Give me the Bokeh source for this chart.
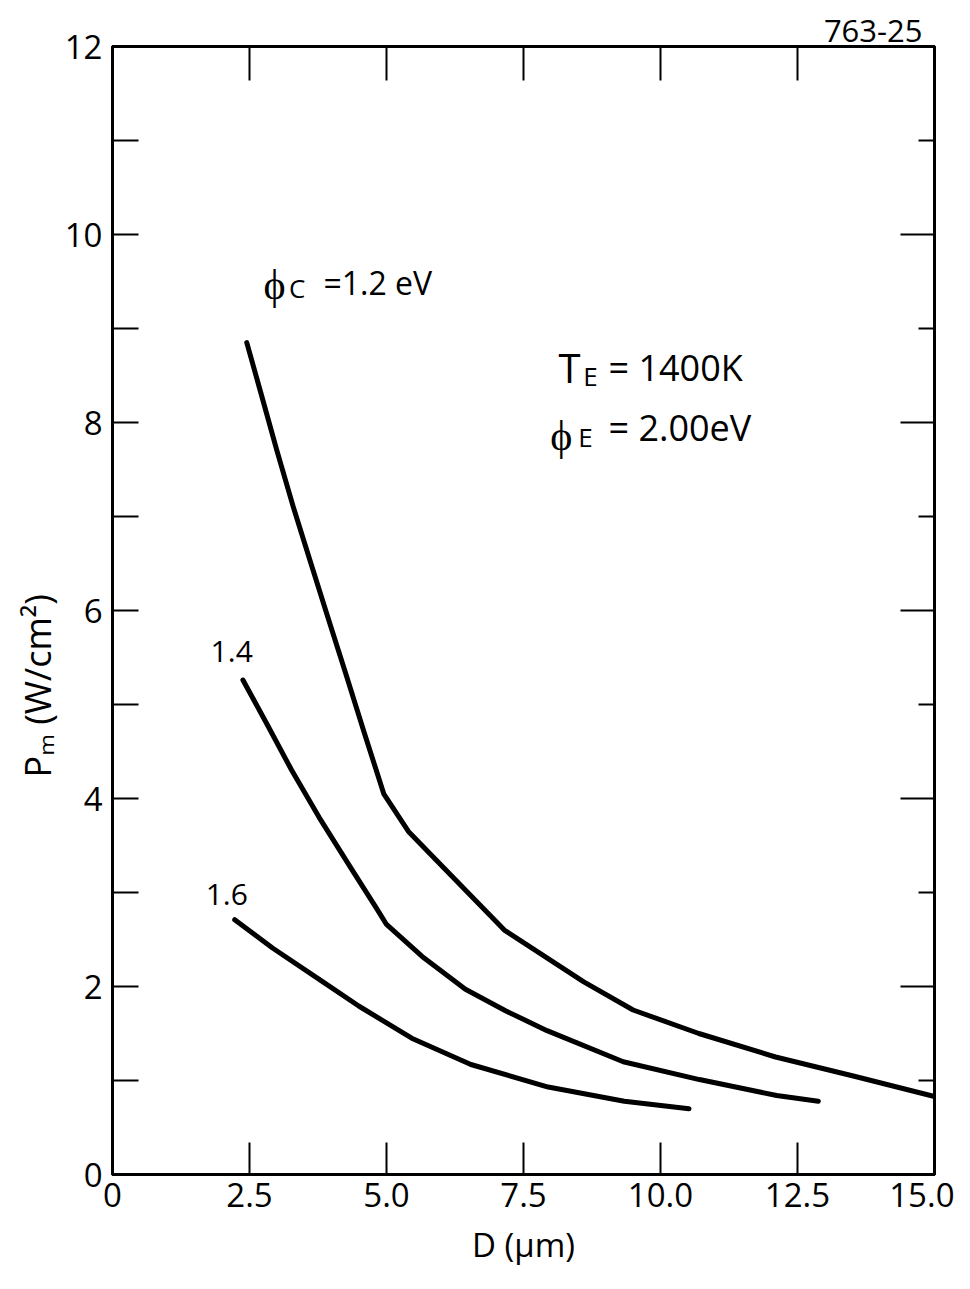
import math
from bokeh.plotting import figure
from bokeh.models import Range1d, FixedTicker, LinearAxis, Label, Title
from bokeh.embed import file_html
from bokeh.resources import INLINE

# ---------------- data ----------------
D_12 = [2.45, 2.7, 3.0, 3.3, 3.6, 3.95, 4.25, 4.6, 4.95, 5.4, 6.15, 7.15, 8.6, 9.5, 10.7, 12.1, 13.5, 15.0]
P_12 = [8.85, 8.33, 7.70, 7.10, 6.54, 5.89, 5.34, 4.69, 4.05, 3.65, 3.2, 2.6, 2.05, 1.75, 1.5, 1.25, 1.05, 0.83]

D_14 = [2.38, 2.83, 3.27, 3.77, 4.34, 4.83, 5.0, 5.65, 6.44, 7.18, 7.93, 9.32, 10.71, 12.12, 12.88]
P_14 = [5.26, 4.78, 4.30, 3.80, 3.27, 2.82, 2.66, 2.32, 1.97, 1.74, 1.53, 1.20, 1.01, 0.84, 0.78]

D_16 = [2.23, 2.92, 3.84, 4.5, 5.46, 6.54, 7.95, 9.34, 10.52]
P_16 = [2.71, 2.41, 2.05, 1.79, 1.45, 1.17, 0.93, 0.78, 0.70]

x_ticks = [0, 2.5, 5.0, 7.5, 10.0, 12.5, 15.0]
x_tick_labels = ["0", "2.5", "5.0", "7.5", "10.0", "12.5", "15.0"]
y_ticks = list(range(0, 13))
y_tick_labels = {v: (str(v) if v % 2 == 0 else "") for v in y_ticks}

FONT = "Open Sans"

p = figure(width=954, height=1273, output_backend="svg", toolbar_location=None,
           x_range=Range1d(0, 15), y_range=Range1d(0, 12),
           min_border_left=112, min_border_right=20, min_border_top=46,
           min_border_bottom=99)
p.background_fill_color = "white"
p.border_fill_color = "white"
p.outline_line_color = "black"
p.outline_line_width = 3
p.xgrid.visible = False
p.ygrid.visible = False

# code number at the top right
p.title.text = "763-25"
p.title.align = "right"
p.title.text_font = FONT
p.title.text_font_size = "31px"
p.title.text_font_style = "normal"
p.title.text_color = "black"
p.title.standoff = 10
p.title.offset = 12

def style_axis(ax, tick_in, minor_in=0):
    ax.axis_line_color = "black"
    ax.axis_line_width = 3
    ax.major_tick_in = tick_in
    ax.major_tick_out = 0
    ax.minor_tick_in = minor_in
    ax.minor_tick_out = 0
    ax.major_tick_line_width = 2
    ax.minor_tick_line_width = 2
    ax.major_tick_line_color = "black"
    ax.minor_tick_line_color = "black" if minor_in else None
    ax.major_label_text_font = FONT
    ax.major_label_text_font_size = "33px"
    ax.major_label_text_color = "black"

# bottom axis
xa = p.xaxis[0]
xa.ticker = FixedTicker(ticks=x_ticks)
xa.major_label_overrides = {t: l for t, l in zip(x_ticks, x_tick_labels)}
style_axis(xa, 32)
xa.major_label_standoff = 8
xa.axis_label = "D (\u03bcm)"
xa.axis_label_text_font = FONT
xa.axis_label_text_font_size = "33px"
xa.axis_label_text_font_style = "normal"
xa.axis_label_text_color = "black"
xa.axis_label_standoff = 12

# left axis
ya = p.yaxis[0]
ya.ticker = FixedTicker(ticks=y_ticks)
ya.major_label_overrides = y_tick_labels
style_axis(ya, 26)
ya.major_label_standoff = 10

# y axis label as a left-side title, placed low like the reference
ylab = Title(text="P\u2098  (W/cm\u00b2)", align="left", text_font=FONT,
             text_font_size="36px", text_font_style="normal", text_color="black",
             offset=397, standoff=0)
p.add_layout(ylab, "left")

# top axis (ticks only)
top = LinearAxis(ticker=FixedTicker(ticks=x_ticks[1:-1]))
style_axis(top, 34)
top.major_label_text_font_size = "0px"
top.major_label_text_color = None
top.major_label_standoff = 0
p.add_layout(top, "above")

# right axis (ticks only)
right = LinearAxis(ticker=FixedTicker(ticks=[0, 2, 4, 6, 8, 10, 12],
                                      minor_ticks=[1, 3, 5, 7, 9, 11]))
style_axis(right, 34, 16)
right.major_label_text_font_size = "0px"
right.major_label_text_color = None
right.major_label_standoff = 0
p.add_layout(right, "right")

# curves
for xs, ys in [(D_12, P_12), (D_14, P_14), (D_16, P_16)]:
    p.line(xs, ys, line_color="black", line_width=5, line_cap="round", line_join="round")

def lab(x, y, text, size, align="left"):
    p.add_layout(Label(x=x, y=y, text=text, text_font=FONT, text_font_size=size,
                       text_color="black", text_align=align, text_baseline="alphabetic"))

# annotations
lab(2.755, 9.49, "\u03d5", "42px")
lab(3.22, 9.43, "C", "26px")
lab(3.85, 9.49, "=1.2 eV", "32px")

lab(8.14, 8.59, "T", "40px")
lab(8.59, 8.50, "E", "26px")
lab(9.05, 8.59, "= 1400K", "36px")

lab(7.99, 7.88, "\u03d5", "42px")
lab(8.5, 7.85, "E", "26px")
lab(9.05, 7.95, "= 2.00eV", "36px")

lab(1.79, 5.56, "1.4", "30px")
lab(1.70, 2.98, "1.6", "30px")

open("out.html", "w").write(file_html(p, INLINE))
